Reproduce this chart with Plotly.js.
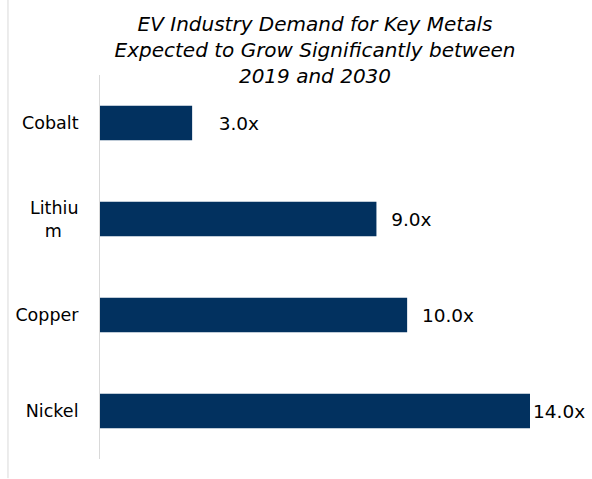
<!DOCTYPE html>
<html>
<head>
<meta charset="utf-8">
<script src="https://cdn.plot.ly/plotly-3.0.1.min.js"></script>
<style>html,body{margin:0;padding:0;background:#fff;}#chart{width:592px;height:479px;}</style>
</head>
<body>
<div id="chart"></div>
<script>
// Data
const categories = ["Cobalt", "Lithium", "Copper", "Nickel"];
const tickLabels = ["Cobalt", "Lithiu<br>m\u00a0\u00a0\u00a0", "Copper", "Nickel"];
const multiples = [3.0, 9.0, 10.0, 14.0];
const titleText = "EV Industry Demand for Key Metals<br>Expected to Grow Significantly between<br>2019 and 2030";

// Label padding (style only, in non-breaking spaces)
const labelPad = [4, 2, 2, 0];
const labelText = multiples.map((v, i) => "\u00a0".repeat(labelPad[i]) + v.toFixed(1) + "x");

const FONT = "DejaVu Sans, Verdana, sans-serif";

const trace = {
  type: "bar",
  orientation: "h",
  y: categories,
  x: multiples,
  marker: { color: "#02315f" },
  text: labelText,
  textposition: "outside",
  texttemplate: "%{text}",
  textfont: { family: FONT, size: 18.5, color: "#000" },
  cliponaxis: false,
  hoverinfo: "skip"
};

const layout = {
  width: 592,
  height: 479,
  margin: { l: 100, r: 62, t: 75, b: 20 },
  paper_bgcolor: "#fff",
  plot_bgcolor: "#fff",
  showlegend: false,
  bargap: 0.64,
  title: {
    text: titleText,
    font: { family: FONT, size: 20, color: "#000", style: "italic" },
    x: 0.5, xref: "paper", xanchor: "center",
    y: 0.935, yref: "container", yanchor: "top"
  },
  xaxis: { visible: false, range: [0, 14], fixedrange: true },
  yaxis: {
    type: "category",
    autorange: "reversed",
    tickmode: "array",
    tickvals: categories,
    ticktext: tickLabels,
    showline: true,
    linecolor: "#d9d9d9",
    linewidth: 1,
    showgrid: false,
    zeroline: false,
    ticks: "outside",
    ticklen: 17,
    tickcolor: "rgba(0,0,0,0)",
    tickfont: { family: FONT, size: 17.5, color: "#000" }
  },
  shapes: [{
    type: "line", xref: "paper", yref: "paper",
    x0: -0.214, x1: -0.214, y0: -0.05, y1: 1.2,
    line: { color: "#d9d9d9", width: 1 }
  }]
};

Plotly.newPlot("chart", [trace], layout, { displayModeBar: false, staticPlot: true });
</script>
</body>
</html>
